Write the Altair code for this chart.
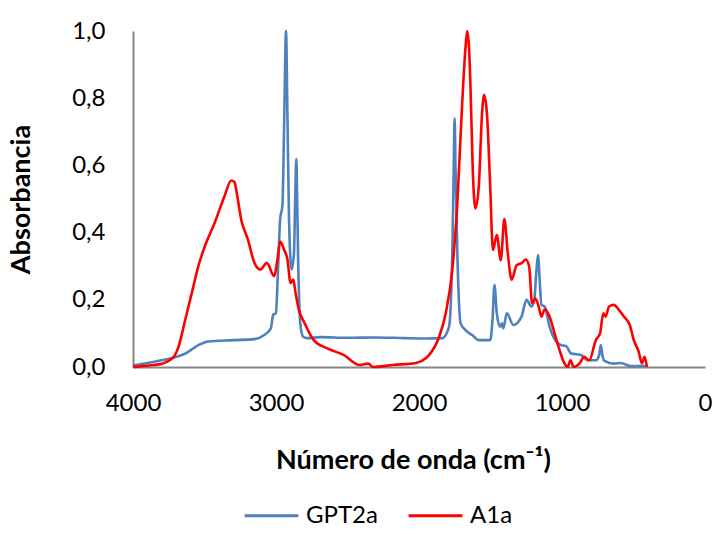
import altair as alt
import pandas as pd

series_names = ["GPT2a", "A1a"]
series_colors = ["#4F81BD", "#FF0000"]

gpt_wn = [4000, 3900, 3800, 3700, 3635, 3580, 3543, 3500, 3474, 3300, 3151, 3082, 3036, 3020, 3001,
          2985, 2971, 2955, 2942, 2930, 2920, 2909, 2891, 2874, 2866, 2858, 2852, 2846, 2828, 2810,
          2782, 2690, 2500, 2300, 2100, 1952, 1836, 1790, 1767, 1757, 1751, 1745, 1732, 1709, 1675,
          1628, 1582, 1502, 1486, 1472, 1456, 1433, 1420, 1410, 1386, 1340, 1283, 1248, 1214, 1195,
          1180, 1168, 1155, 1144, 1121, 1087, 1040, 1006, 971, 936, 867, 821, 763, 740, 729, 715,
          706, 637, 590, 521, 418, 400]
gpt_abs = [0.005, 0.012, 0.02, 0.03, 0.04, 0.055, 0.065, 0.073, 0.076, 0.08, 0.083, 0.095, 0.115, 0.155, 0.16,
           0.3, 0.44, 0.48, 0.75, 1.0, 0.75, 0.44, 0.29, 0.34, 0.5, 0.62, 0.5, 0.34, 0.12, 0.09,
           0.086, 0.089, 0.087, 0.088, 0.086, 0.085, 0.086, 0.12, 0.34, 0.6, 0.74, 0.6, 0.34, 0.13, 0.11,
           0.095, 0.08, 0.08, 0.14, 0.244, 0.16, 0.12, 0.13, 0.115, 0.16, 0.125, 0.15, 0.2, 0.18, 0.195,
           0.28, 0.333, 0.25, 0.185, 0.18, 0.12, 0.075, 0.065, 0.062, 0.04, 0.036, 0.02, 0.02, 0.035, 0.065, 0.03,
           0.019, 0.01, 0.012, 0.003, 0.003, 0.003]

a1_wn = [4000, 3900, 3797, 3716, 3682, 3635, 3589, 3543, 3497, 3428, 3359, 3313, 3290, 3278, 3244,
         3197, 3151, 3110, 3064, 3013, 2990, 2971, 2944, 2920, 2898, 2879, 2863, 2840, 2805, 2736,
         2644, 2528, 2413, 2355, 2321, 2183, 2021, 1952, 1929, 1859, 1813, 1767, 1732, 1698, 1675,
         1663, 1650, 1640, 1624, 1606, 1582, 1559, 1545, 1525, 1502, 1483, 1456, 1428, 1403, 1379,
         1352, 1317, 1283, 1253, 1230, 1209, 1186, 1163, 1144, 1121, 1087, 1052, 1017, 983, 960,
         941, 918, 879, 844, 810, 763, 734, 711, 695, 671, 637, 602, 567, 526, 498, 464, 441, 422, 406]
a1_abs = [0.0, 0.004, 0.01, 0.03, 0.06, 0.14, 0.22, 0.30, 0.36, 0.43, 0.51, 0.555, 0.55, 0.527, 0.44,
          0.38, 0.31, 0.29, 0.31, 0.27, 0.32, 0.373, 0.35, 0.32, 0.25, 0.26, 0.22, 0.17, 0.135, 0.08,
          0.056, 0.036, 0.006, 0.01, 0.0, 0.006, 0.012, 0.026, 0.036, 0.09, 0.16, 0.29, 0.487, 0.785, 0.95,
          1.0, 0.95, 0.834, 0.586, 0.472, 0.537, 0.755, 0.81, 0.755, 0.537, 0.348, 0.393, 0.318, 0.44, 0.338,
          0.26, 0.303, 0.309, 0.32, 0.30, 0.19, 0.204, 0.18, 0.15, 0.172, 0.15, 0.10, 0.05, 0.011, 0.0,
          0.02, 0.0, 0.01, 0.03, 0.02, 0.08, 0.10, 0.16, 0.15, 0.18, 0.185, 0.17, 0.15, 0.125, 0.08, 0.046, 0.011, 0.03, 0.0]

rows = []
for i, (w, a) in enumerate(zip(gpt_wn, gpt_abs)):
    rows.append({"wn": w, "abs": a, "serie": "GPT2a", "o": i})
for i, (w, a) in enumerate(zip(a1_wn, a1_abs)):
    rows.append({"wn": w, "abs": a, "serie": "A1a", "o": i})
df = pd.DataFrame(rows)

FONT = "Lato"

chart = alt.Chart(df).mark_line(strokeWidth=2.6, interpolate="monotone").encode(
    x=alt.X("wn:Q",
            scale=alt.Scale(domain=[0, 4000], reverse=True, nice=False),
            axis=alt.Axis(values=[0, 1000, 2000, 3000, 4000], title="Número de onda (cm⁻¹)",
                          format="d", labelFlush=False, labelOverlap=False,
                          ticks=False, grid=False, labelPadding=24, titlePadding=32,
                          titleX=280)),
    y=alt.Y("abs:Q",
            scale=alt.Scale(domain=[0, 1], nice=False),
            axis=alt.Axis(values=[0, 0.2, 0.4, 0.6, 0.8, 1.0], title="Absorbancia",
                          labelExpr="replace(format(datum.value, '.1f'), '.', ',')",
                          labelFlush=False,
                          ticks=False, grid=False, labelPadding=28, titlePadding=36)),
    color=alt.Color("serie:N",
                    scale=alt.Scale(domain=series_names, range=series_colors),
                    legend=alt.Legend(title=None, orient="none", direction="horizontal",
                                      legendX=110, legendY=456, symbolType="stroke",
                                      symbolSize=2900, symbolStrokeWidth=3,
                                      labelFontSize=24, labelFont=FONT, labelColor="#000000",
                                      columnPadding=24, labelOffset=6, padding=0)),
    order="o:Q",
    detail="serie:N",
).properties(
    width=572, height=336,
    autosize=alt.AutoSizeParams(type="none"),
    padding={"left": 125, "top": 23, "right": 7, "bottom": 159},
    background="white",
).configure_view(stroke=None).configure_axis(
    domainColor="#868686", domainWidth=2,
    labelFont=FONT, labelFontSize=24, labelColor="#000000",
    titleFont=FONT, titleFontSize=27, titleFontWeight="bold", titleColor="#000000",
)

chart.save("out.html", embed_options={"renderer": "svg", "actions": False})
